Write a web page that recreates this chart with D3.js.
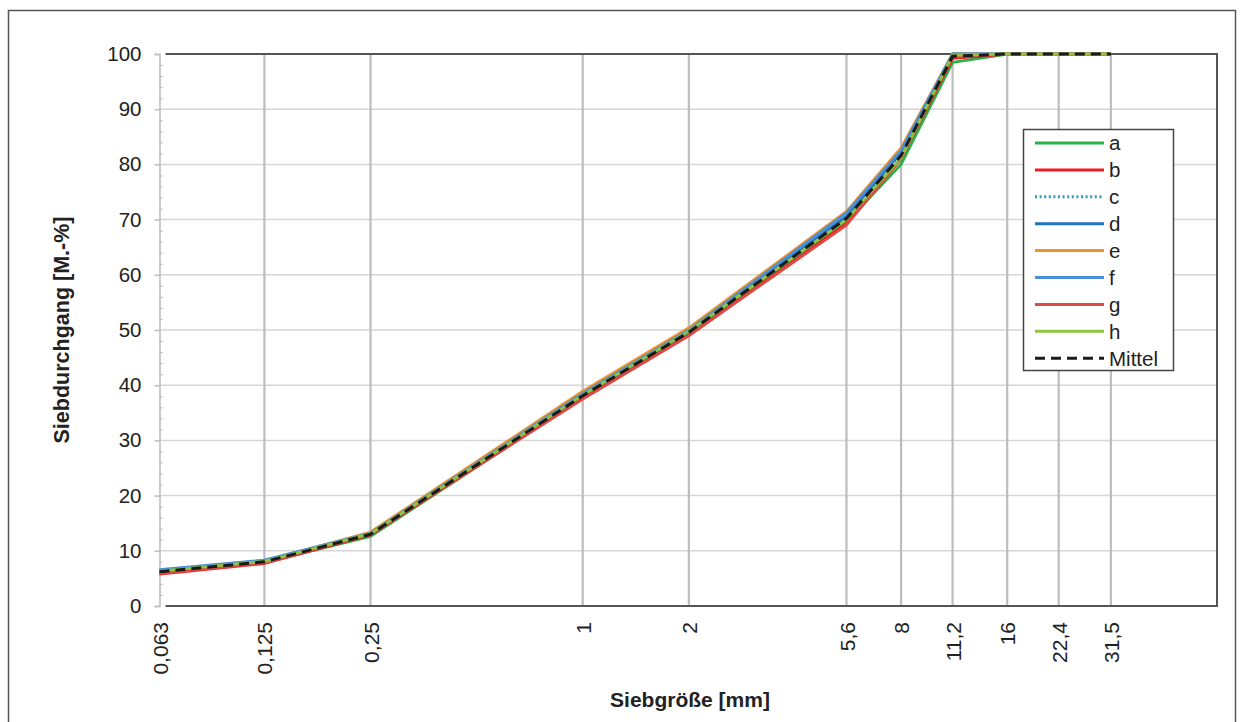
<!DOCTYPE html>
<html>
<head>
<meta charset="utf-8">
<script src="https://cdn.jsdelivr.net/npm/d3@7"></script>
<style>
  html, body { margin: 0; padding: 0; background: #fff; }
  svg { display: block; font-family: "Liberation Sans", Arial, sans-serif; }
</style>
</head>
<body>
<svg id="chart" width="1244" height="722"></svg>
<script>
// Sieve sizes [mm]
const sieves = [0.063, 0.125, 0.25, 1, 2, 5.6, 8, 11.2, 16, 22.4, 31.5];
const sieveLabels = ["0,063", "0,125", "0,25", "1", "2", "5,6", "8", "11,2", "16", "22,4", "31,5"];

// Passing [mass %] per sample
const seriesNames = ["a", "b", "c", "d", "e", "f", "g", "h", "Mittel"];
const passA = [6.0, 7.9, 12.6, 37.8, 49.3, 69.5, 80.0, 98.5, 100, 100, 100];
const passB = [5.8, 7.7, 12.9, 37.6, 49.0, 69.3, 81.0, 99.2, 100, 100, 100];
const passC = [6.5, 8.3, 13.2, 38.3, 49.8, 70.2, 81.8, 100, 100, 100, 100];
const passD = [6.4, 8.2, 13.1, 38.2, 49.7, 70.6, 82.2, 100, 100, 100, 100];
const passE = [6.2, 8.1, 13.4, 38.9, 50.4, 71.5, 83.0, 100, 100, 100, 100];
const passF = [6.6, 8.3, 13.2, 38.5, 50.0, 71.2, 82.5, 100, 100, 100, 100];
const passG = [5.9, 7.8, 13.0, 37.5, 49.0, 69.0, 81.0, 99.5, 100, 100, 100];
const passH = [6.3, 8.1, 13.1, 38.2, 49.8, 70.0, 81.2, 99.8, 100, 100, 100];
const passMean = [6.2, 8.0, 13.0, 38.1, 49.6, 70.2, 81.6, 99.6, 100, 100, 100];

const yTicks = [0, 10, 20, 30, 40, 50, 60, 70, 80, 90, 100];

const seriesValues = [passA, passB, passC, passD, passE, passF, passG, passH, passMean];
const styles = [
  { color: "#27b24a", dash: null },
  { color: "#ec1c24", dash: null },
  { color: "#2a9cc0", dash: "2,2.6" },
  { color: "#1a73c4", dash: null },
  { color: "#f0922c", dash: null },
  { color: "#4a8fd6", dash: null },
  { color: "#dd4b43", dash: null },
  { color: "#8cc63f", dash: null },
  { color: "#1a1a1a", dash: "10,6" }
];

const svg = d3.select("#chart");

// outer frame
svg.append("rect")
  .attr("x", 8.5).attr("y", 10.5)
  .attr("width", 1227).attr("height", 730)
  .attr("fill", "none").attr("stroke", "#555").attr("stroke-width", 1.5);

const x = d3.scaleLog().domain([0.063, 63]).range([159.5, 1217]);
const y = d3.scaleLinear().domain([0, 100]).range([606, 54]);

// horizontal grid
svg.append("g")
  .selectAll("line")
  .data(yTicks.filter(v => v > 0 && v < 100))
  .join("line")
  .attr("x1", x(0.063)).attr("x2", x(63))
  .attr("y1", d => y(d)).attr("y2", d => y(d))
  .attr("stroke", "#d6d6d6").attr("stroke-width", 1.5);

// vertical grid at sieve sizes
svg.append("g")
  .selectAll("line")
  .data(sieves.slice(1))
  .join("line")
  .attr("x1", d => x(d)).attr("x2", d => x(d))
  .attr("y1", y(100)).attr("y2", y(0))
  .attr("stroke", "#bdbdbd").attr("stroke-width", 2.2);

// plot frame (top, right, bottom)
const frameLeft = x(0.063) + 6;
svg.append("path")
  .attr("d", `M${frameLeft},${y(100)}H${x(63)}V${y(0)}H${frameLeft}`)
  .attr("fill", "none").attr("stroke", "#555").attr("stroke-width", 2);

// y axis with minor ticks
const yAxisG = svg.append("g").attr("transform", `translate(${x(0.063)},0)`);
yAxisG.call(d3.axisLeft(y).tickValues(yTicks).tickSize(5).tickPadding(13))
  .call(g => g.select(".domain").attr("stroke", "#bbb").attr("stroke-width", 1.5))
  .call(g => g.selectAll(".tick line").attr("stroke", "#bbb").attr("stroke-width", 1.5))
  .call(g => g.selectAll(".tick text")
    .attr("font-size", 20.5).attr("fill", "#222")
    .attr("font-family", "'Liberation Sans', Arial, sans-serif"));
const minor = d3.range(0, 101, 2).filter(v => v % 10 !== 0);
svg.append("g").attr("transform", `translate(${x(0.063)},0)`)
  .call(d3.axisRight(y).tickValues(minor).tickSize(3).tickFormat(""))
  .call(g => g.select(".domain").remove())
  .call(g => g.selectAll(".tick line").attr("stroke", "#bbb").attr("stroke-width", 1.2));

// x axis labels (rotated)
const xAxisG = svg.append("g").attr("transform", `translate(0,${y(0)})`);
xAxisG.call(d3.axisBottom(x).tickValues(sieves).tickSize(0)
    .tickFormat((d, i) => sieveLabels[i]))
  .call(g => g.select(".domain").remove())
  .call(g => g.selectAll(".tick text")
    .attr("font-size", 21).attr("fill", "#222")
    .attr("font-family", "'Liberation Sans', Arial, sans-serif")
    .attr("transform", "rotate(-90)")
    .attr("text-anchor", "end")
    .attr("x", -16).attr("y", 0).attr("dy", "0.36em"));

// axis titles
svg.append("text")
  .attr("x", 690).attr("y", 707)
  .attr("text-anchor", "middle")
  .attr("font-size", 21).attr("font-weight", "bold").attr("fill", "#222")
  .text("Siebgröße [mm]");
svg.append("text")
  .attr("transform", "translate(69,330) rotate(-90)")
  .attr("text-anchor", "middle")
  .attr("font-size", 21.5).attr("font-weight", "bold").attr("fill", "#222")
  .text("Siebdurchgang [M.-%]");

// curves
const line = d3.line()
  .x((d, i) => x(sieves[i]))
  .y(d => y(d));

svg.append("g")
  .selectAll("path")
  .data(seriesValues)
  .join("path")
  .attr("d", d => line(d))
  .attr("fill", "none")
  .attr("stroke", (d, i) => styles[i].color)
  .attr("stroke-width", (d, i) => i === 8 ? 3 : 2.8)
  .attr("stroke-dasharray", (d, i) => styles[i].dash)
  .attr("stroke-linejoin", "round");

// legend
const lg = svg.append("g");
lg.append("rect")
  .attr("x", 1023.5).attr("y", 129.5)
  .attr("width", 150).attr("height", 241)
  .attr("fill", "#fff").attr("stroke", "#444").attr("stroke-width", 1.5);
const rows = lg.selectAll("g.row")
  .data(seriesNames)
  .join("g")
  .attr("class", "row")
  .attr("transform", (d, i) => `translate(0,${143 + i * 26.9})`);
rows.append("line")
  .attr("x1", 1035).attr("x2", 1104)
  .attr("stroke", (d, i) => styles[i].color)
  .attr("stroke-width", 3)
  .attr("stroke-dasharray", (d, i) => styles[i].dash);
rows.append("text")
  .attr("x", 1109).attr("dy", "0.36em")
  .attr("font-size", 20.5).attr("fill", "#222")
  .text(d => d);
</script>
</body>
</html>
